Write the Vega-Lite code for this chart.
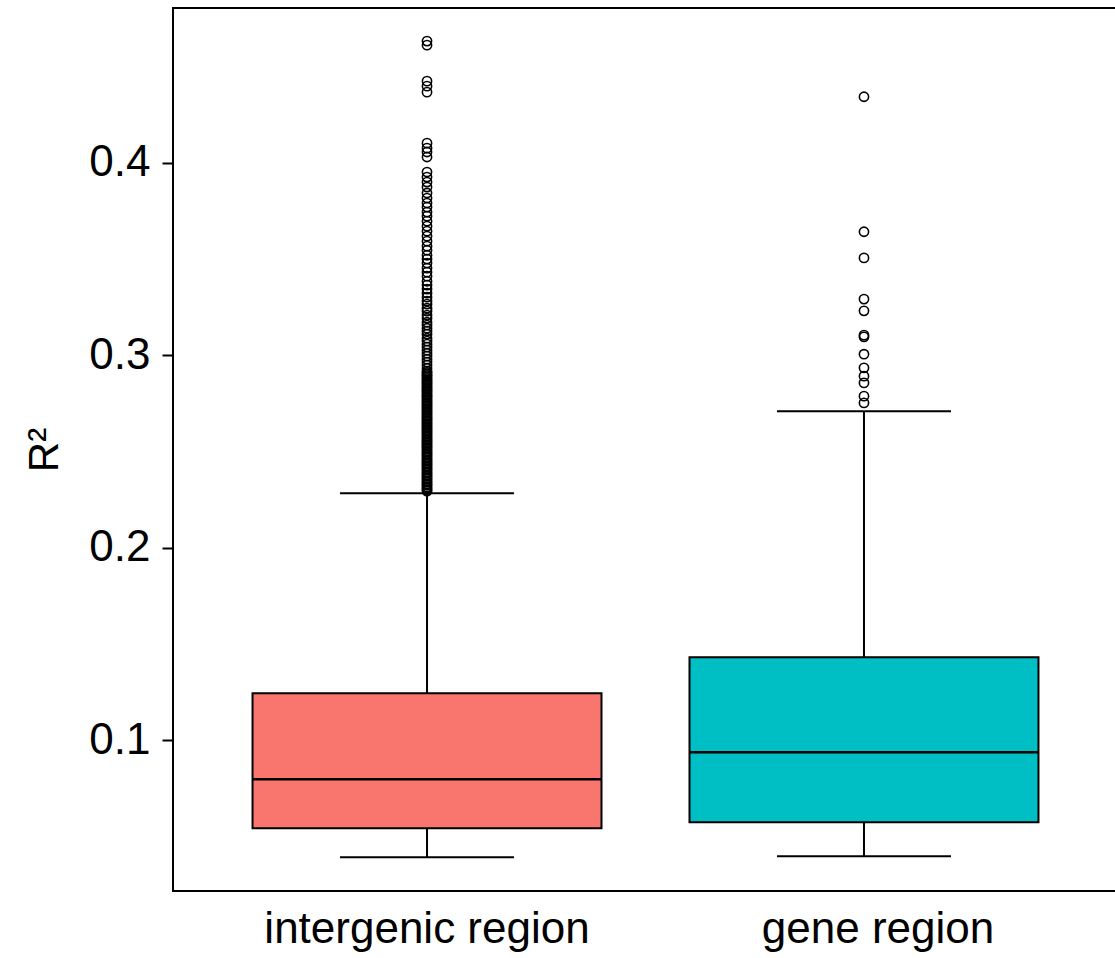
{
  "$schema": "https://vega.github.io/schema/vega-lite/v6.json",
  "width": 945,
  "height": 883,
  "autosize": {"type": "none"},
  "padding": {"left": 173, "top": 8, "right": 0, "bottom": 67},
  "background": "white",
  "config": {
    "view": {"stroke": "black", "strokeWidth": 2},
    "font": "Liberation Sans"
  },
  "datasets": {
    "boxes": [
      {"region": "intergenic region", "lower": 0.0392, "q1": 0.0543, "median": 0.0797, "q3": 0.1244, "upper": 0.2283},
      {"region": "gene region", "lower": 0.0397, "q1": 0.0574, "median": 0.0938, "q3": 0.1431, "upper": 0.2709}
    ],
    "outliers": [
      {"region": "intergenic region", "r2": 0.4631}, {"region": "intergenic region", "r2": 0.4610},
      {"region": "intergenic region", "r2": 0.4423}, {"region": "intergenic region", "r2": 0.4397},
      {"region": "intergenic region", "r2": 0.4366}, {"region": "intergenic region", "r2": 0.4101},
      {"region": "intergenic region", "r2": 0.4075}, {"region": "intergenic region", "r2": 0.4055},
      {"region": "intergenic region", "r2": 0.4029}, {"region": "intergenic region", "r2": 0.3951},
      {"region": "intergenic region", "r2": 0.3925}, {"region": "intergenic region", "r2": 0.3899},
      {"region": "intergenic region", "r2": 0.3873}, {"region": "intergenic region", "r2": 0.3842},
      {"region": "intergenic region", "r2": 0.3816}, {"region": "intergenic region", "r2": 0.3790},
      {"region": "intergenic region", "r2": 0.3769}, {"region": "intergenic region", "r2": 0.3743},
      {"region": "intergenic region", "r2": 0.3722}, {"region": "intergenic region", "r2": 0.3696},
      {"region": "intergenic region", "r2": 0.3670}, {"region": "intergenic region", "r2": 0.3644},
      {"region": "intergenic region", "r2": 0.3618}, {"region": "intergenic region", "r2": 0.3592},
      {"region": "intergenic region", "r2": 0.3566}, {"region": "intergenic region", "r2": 0.3545},
      {"region": "intergenic region", "r2": 0.3519}, {"region": "intergenic region", "r2": 0.3499},
      {"region": "intergenic region", "r2": 0.3478}, {"region": "intergenic region", "r2": 0.3452},
      {"region": "intergenic region", "r2": 0.3431}, {"region": "intergenic region", "r2": 0.3410},
      {"region": "intergenic region", "r2": 0.3384}, {"region": "intergenic region", "r2": 0.3364},
      {"region": "intergenic region", "r2": 0.3343}, {"region": "intergenic region", "r2": 0.3322},
      {"region": "intergenic region", "r2": 0.3301}, {"region": "intergenic region", "r2": 0.3281},
      {"region": "intergenic region", "r2": 0.3265}, {"region": "intergenic region", "r2": 0.3244},
      {"region": "intergenic region", "r2": 0.3229}, {"region": "intergenic region", "r2": 0.3208},
      {"region": "intergenic region", "r2": 0.3192}, {"region": "intergenic region", "r2": 0.3171},
      {"region": "intergenic region", "r2": 0.3156}, {"region": "intergenic region", "r2": 0.3140},
      {"region": "intergenic region", "r2": 0.3125}, {"region": "intergenic region", "r2": 0.3109},
      {"region": "intergenic region", "r2": 0.3088}, {"region": "intergenic region", "r2": 0.3073},
      {"region": "intergenic region", "r2": 0.3057}, {"region": "intergenic region", "r2": 0.3042},
      {"region": "intergenic region", "r2": 0.3026}, {"region": "intergenic region", "r2": 0.3010},
      {"region": "intergenic region", "r2": 0.2995}, {"region": "intergenic region", "r2": 0.2979},
      {"region": "intergenic region", "r2": 0.2964}, {"region": "intergenic region", "r2": 0.2948},
      {"region": "intergenic region", "r2": 0.2932}, {"region": "intergenic region", "r2": 0.2917},
      {"region": "intergenic region", "r2": 0.2901}, {"region": "intergenic region", "r2": 0.2886},
      {"region": "intergenic region", "r2": 0.2870}, {"region": "intergenic region", "r2": 0.2855},
      {"region": "intergenic region", "r2": 0.2839}, {"region": "intergenic region", "r2": 0.2823},
      {"region": "intergenic region", "r2": 0.2808}, {"region": "intergenic region", "r2": 0.2792},
      {"region": "intergenic region", "r2": 0.2777}, {"region": "intergenic region", "r2": 0.2761},
      {"region": "intergenic region", "r2": 0.2745}, {"region": "intergenic region", "r2": 0.2730},
      {"region": "intergenic region", "r2": 0.2714}, {"region": "intergenic region", "r2": 0.2699},
      {"region": "intergenic region", "r2": 0.2683}, {"region": "intergenic region", "r2": 0.2668},
      {"region": "intergenic region", "r2": 0.2652}, {"region": "intergenic region", "r2": 0.2636},
      {"region": "intergenic region", "r2": 0.2621}, {"region": "intergenic region", "r2": 0.2605},
      {"region": "intergenic region", "r2": 0.2590}, {"region": "intergenic region", "r2": 0.2574},
      {"region": "intergenic region", "r2": 0.2558}, {"region": "intergenic region", "r2": 0.2543},
      {"region": "intergenic region", "r2": 0.2527}, {"region": "intergenic region", "r2": 0.2512},
      {"region": "intergenic region", "r2": 0.2496}, {"region": "intergenic region", "r2": 0.2481},
      {"region": "intergenic region", "r2": 0.2465}, {"region": "intergenic region", "r2": 0.2449},
      {"region": "intergenic region", "r2": 0.2434}, {"region": "intergenic region", "r2": 0.2418},
      {"region": "intergenic region", "r2": 0.2403}, {"region": "intergenic region", "r2": 0.2387},
      {"region": "intergenic region", "r2": 0.2371}, {"region": "intergenic region", "r2": 0.2356},
      {"region": "intergenic region", "r2": 0.2340}, {"region": "intergenic region", "r2": 0.2325},
      {"region": "intergenic region", "r2": 0.2309}, {"region": "intergenic region", "r2": 0.2294},
      {"region": "intergenic region", "r2": 0.2300}, {"region": "intergenic region", "r2": 0.2315},
      {"region": "intergenic region", "r2": 0.2330}, {"region": "intergenic region", "r2": 0.2345},
      {"region": "intergenic region", "r2": 0.2362}, {"region": "intergenic region", "r2": 0.2378},
      {"region": "intergenic region", "r2": 0.2393}, {"region": "intergenic region", "r2": 0.2410},
      {"region": "intergenic region", "r2": 0.2425}, {"region": "intergenic region", "r2": 0.2440},
      {"region": "intergenic region", "r2": 0.2455}, {"region": "intergenic region", "r2": 0.2472},
      {"region": "intergenic region", "r2": 0.2488}, {"region": "intergenic region", "r2": 0.2503},
      {"region": "intergenic region", "r2": 0.2520}, {"region": "intergenic region", "r2": 0.2535},
      {"region": "intergenic region", "r2": 0.2550}, {"region": "intergenic region", "r2": 0.2565},
      {"region": "intergenic region", "r2": 0.2582}, {"region": "intergenic region", "r2": 0.2598},
      {"region": "intergenic region", "r2": 0.2613}, {"region": "intergenic region", "r2": 0.2628},
      {"region": "intergenic region", "r2": 0.2644}, {"region": "intergenic region", "r2": 0.2660},
      {"region": "intergenic region", "r2": 0.2675}, {"region": "intergenic region", "r2": 0.2690},
      {"region": "intergenic region", "r2": 0.2706}, {"region": "intergenic region", "r2": 0.2722},
      {"region": "intergenic region", "r2": 0.2738}, {"region": "intergenic region", "r2": 0.2753},
      {"region": "intergenic region", "r2": 0.2768}, {"region": "intergenic region", "r2": 0.2785},
      {"region": "intergenic region", "r2": 0.2800}, {"region": "intergenic region", "r2": 0.2816},
      {"region": "intergenic region", "r2": 0.2831}, {"region": "intergenic region", "r2": 0.2847},
      {"region": "intergenic region", "r2": 0.2862}, {"region": "intergenic region", "r2": 0.2878},
      {"region": "intergenic region", "r2": 0.2894}, {"region": "intergenic region", "r2": 0.2910},
      {"region": "gene region", "r2": 0.4342}, {"region": "gene region", "r2": 0.3641},
      {"region": "gene region", "r2": 0.3505}, {"region": "gene region", "r2": 0.3291},
      {"region": "gene region", "r2": 0.3230}, {"region": "gene region", "r2": 0.3104},
      {"region": "gene region", "r2": 0.3095}, {"region": "gene region", "r2": 0.3005},
      {"region": "gene region", "r2": 0.2934}, {"region": "gene region", "r2": 0.2891},
      {"region": "gene region", "r2": 0.2856}, {"region": "gene region", "r2": 0.2787},
      {"region": "gene region", "r2": 0.2752}
    ]
  },
  "encoding": {
    "x": {
      "field": "region",
      "type": "nominal",
      "sort": ["intergenic region", "gene region"],
      "scale": {"type": "band", "paddingInner": 0.2014, "paddingOuter": 0.182},
      "axis": {
        "title": null,
        "labelAngle": 0,
        "labelFontSize": 44,
        "labelLimit": 0,
        "labelColor": "black",
        "labelPadding": 16,
        "labelOffset": {"condition": {"test": "datum.value === 'gene region'", "value": 14}, "value": 0},
        "ticks": false,
        "domain": false
      }
    }
  },
  "layer": [
    {
      "data": {"name": "boxes"},
      "mark": {"type": "rule", "color": "black", "strokeWidth": 2},
      "encoding": {
        "y": {
          "field": "lower",
          "type": "quantitative",
          "scale": {"domain": [0.0217, 0.4803], "nice": false, "zero": false},
          "axis": {
            "values": [0.1, 0.2, 0.3, 0.4],
            "format": ".1f",
            "title": "R²",
            "titleFontSize": 42,
            "titleFontWeight": "normal",
            "titleColor": "black",
            "titlePadding": 22,
            "labelFontSize": 44,
            "labelColor": "black",
            "labelPadding": 12,
            "tickSize": 11,
            "tickWidth": 2,
            "tickColor": "black",
            "domain": false,
            "grid": false
          }
        },
        "y2": {"field": "upper"}
      }
    },
    {
      "data": {"name": "boxes"},
      "mark": {"type": "bar", "stroke": "black", "strokeWidth": 2, "opacity": 1},
      "encoding": {
        "y": {"field": "q1", "type": "quantitative"},
        "y2": {"field": "q3"},
        "color": {
          "field": "region",
          "type": "nominal",
          "scale": {"domain": ["intergenic region", "gene region"], "range": ["#F8766D", "#00BFC4"]},
          "legend": null
        }
      }
    },
    {
      "data": {"name": "boxes"},
      "mark": {"type": "tick", "orient": "horizontal", "color": "black", "opacity": 1, "size": 349, "thickness": 2.5},
      "encoding": {"y": {"field": "median", "type": "quantitative"}}
    },
    {
      "data": {"name": "boxes"},
      "mark": {"type": "tick", "orient": "horizontal", "color": "black", "opacity": 1, "size": 174, "thickness": 2},
      "encoding": {"y": {"field": "lower", "type": "quantitative"}}
    },
    {
      "data": {"name": "boxes"},
      "mark": {"type": "tick", "orient": "horizontal", "color": "black", "opacity": 1, "size": 174, "thickness": 2},
      "encoding": {"y": {"field": "upper", "type": "quantitative"}}
    },
    {
      "data": {"name": "outliers"},
      "mark": {"type": "point", "shape": "circle", "filled": false, "stroke": "black", "strokeWidth": 1.6, "size": 85, "opacity": 1},
      "encoding": {"y": {"field": "r2", "type": "quantitative"}}
    }
  ]
}
